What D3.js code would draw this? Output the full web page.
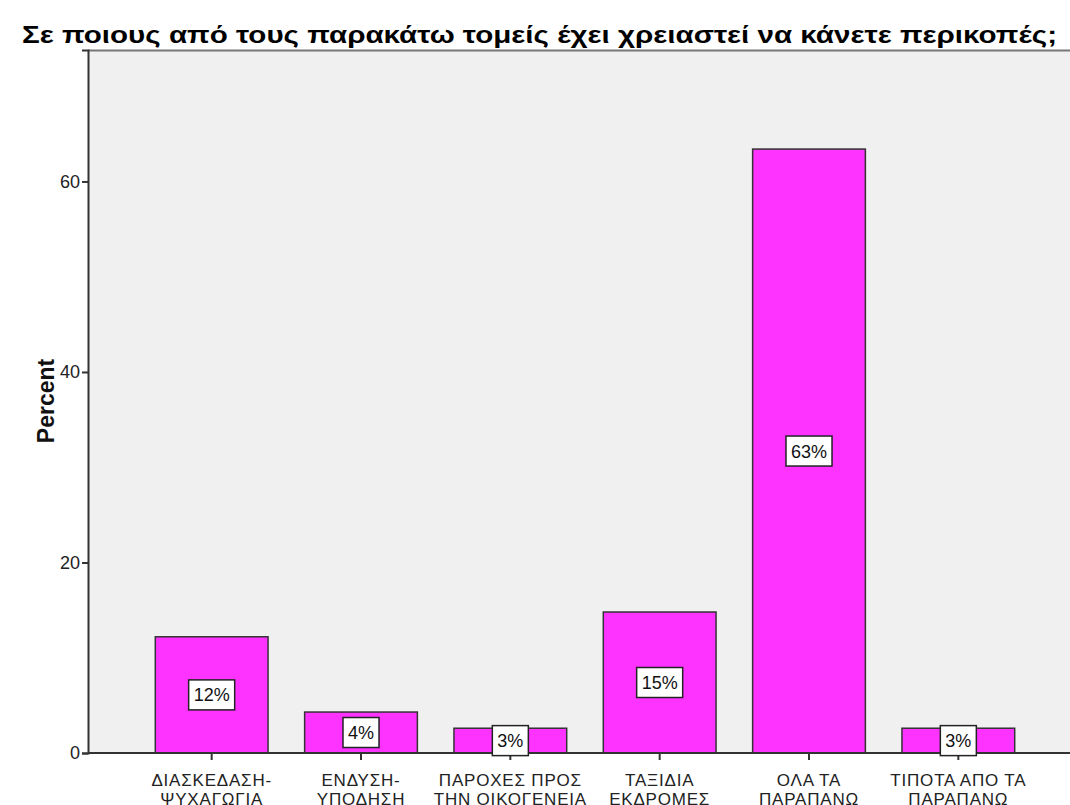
<html>
<head>
<script src="https://d3js.org/d3.v7.min.js"></script>
<style>
  body { margin: 0; background: #fff; }
  text { font-family: Arial, "Liberation Sans", sans-serif; }
</style>
</head>
<body>
<svg width="1070" height="805"></svg>
<script>
var categories = [
  ["ΔΙΑΣΚΕΔΑΣΗ-", "ΨΥΧΑΓΩΓΙΑ"],
  ["ΕΝΔΥΣΗ-", "ΥΠΟΔΗΣΗ"],
  ["ΠΑΡΟΧΕΣ ΠΡΟΣ", "ΤΗΝ ΟΙΚΟΓΕΝΕΙΑ"],
  ["ΤΑΞΙΔΙΑ", "ΕΚΔΡΟΜΕΣ"],
  ["ΟΛΑ ΤΑ", "ΠΑΡΑΠΑΝΩ"],
  ["ΤΙΠΟΤΑ ΑΠΟ ΤΑ", "ΠΑΡΑΠΑΝΩ"]
];
var percents = [12.2, 4.3, 2.6, 14.8, 63.4, 2.6];
var yTicks = [0, 20, 40, 60];
var yMax = 73.8;
var title = "Σε ποιους από τους παρακάτω τομείς έχει χρειαστεί να κάνετε περικοπές;";

var svg = d3.select("svg"),
    plot = {left: 88, right: 1070, top: 50, bottom: 753};

var keys = categories.map(function(d, i) { return i; });

var x = d3.scaleBand()
    .domain(keys)
    .range([137, 1033])
    .paddingInner(0.245)
    .paddingOuter(0.1225);

var y = d3.scaleLinear()
    .domain([0, yMax])
    .range([plot.bottom, plot.top]);

// plot background
svg.append("rect")
    .attr("x", plot.left)
    .attr("y", plot.top)
    .attr("width", plot.right - plot.left)
    .attr("height", plot.bottom - plot.top)
    .attr("fill", "#f0f0f0");

svg.append("line")
    .attr("x1", plot.left).attr("x2", plot.right)
    .attr("y1", plot.top + 0.5).attr("y2", plot.top + 0.5)
    .attr("stroke", "#777")
    .attr("stroke-width", 2);

// title
svg.append("text")
    .attr("x", 22)
    .attr("y", 43)
    .attr("font-size", 24)
    .attr("font-weight", "bold")
    .attr("fill", "#000")
    .attr("textLength", 1035)
    .attr("lengthAdjust", "spacingAndGlyphs")
    .text(title);

// bars
svg.selectAll(".bar")
  .data(percents)
  .enter().append("rect")
    .attr("class", "bar")
    .attr("x", function(d, i) { return x(i); })
    .attr("y", function(d) { return y(d); })
    .attr("width", x.bandwidth())
    .attr("height", function(d) { return y(0) - y(d); })
    .attr("fill", "#ff33ff")
    .attr("stroke", "#333")
    .attr("stroke-width", 1.5);

// y axis
var yAxis = svg.append("g")
    .attr("transform", "translate(" + plot.left + ",0)")
    .call(d3.axisLeft(y).tickValues(yTicks).tickSize(6).tickFormat(d3.format("d")));
yAxis.select(".domain").attr("stroke", "#333").attr("stroke-width", 2);
yAxis.selectAll(".tick line").attr("stroke", "#333").attr("stroke-width", 2);
yAxis.selectAll(".tick text")
    .attr("font-size", 18)
    .attr("font-family", "Arial, 'Liberation Sans', sans-serif")
    .attr("fill", "#222")
    .attr("x", -8);

// x axis
var xAxis = svg.append("g")
    .attr("transform", "translate(0," + plot.bottom + ")")
    .call(d3.axisBottom(x).tickSize(7).tickFormat(""));
xAxis.select(".domain").remove();
xAxis.selectAll(".tick line").attr("stroke", "#333").attr("stroke-width", 2);

svg.append("line")
    .attr("x1", plot.left).attr("x2", plot.right)
    .attr("y1", plot.bottom).attr("y2", plot.bottom)
    .attr("stroke", "#333")
    .attr("stroke-width", 2);

xAxis.selectAll(".tick").each(function(d) {
  var t = d3.select(this).append("text")
      .attr("fill", "#222")
      .attr("font-size", 17)
      .attr("letter-spacing", 0.8)
      .attr("font-family", "Arial, 'Liberation Sans', sans-serif")
      .attr("text-anchor", "middle")
      .attr("y", 33);
  categories[d].forEach(function(line, j) {
    t.append("tspan").attr("x", 0).attr("dy", j === 0 ? 0 : 19).text(line);
  });
});

// value labels
var labels = svg.selectAll(".lbl")
  .data(percents)
  .enter().append("g")
    .attr("class", "lbl")
    .attr("transform", function(d, i) {
      return "translate(" + (x(i) + x.bandwidth() / 2) + "," + y(d / 2) + ")";
    });

labels.append("text")
    .attr("text-anchor", "middle")
    .attr("dy", "0.36em")
    .attr("font-size", 18)
    .attr("fill", "#111")
    .text(function(d) { return Math.round(d) + "%"; });

labels.each(function() {
  var g = d3.select(this),
      bb = g.select("text").node().getBBox();
  g.insert("rect", "text")
      .attr("x", bb.x - 5)
      .attr("y", -15)
      .attr("width", bb.width + 10)
      .attr("height", 30)
      .attr("fill", "#fff")
      .attr("stroke", "#222")
      .attr("stroke-width", 1.5);
});

// y label
svg.append("text")
    .attr("transform", "translate(54,401) rotate(-90)")
    .attr("text-anchor", "middle")
    .attr("font-size", 23)
    .attr("font-weight", "bold")
    .attr("fill", "#111")
    .text("Percent");
</script>
</body>
</html>
